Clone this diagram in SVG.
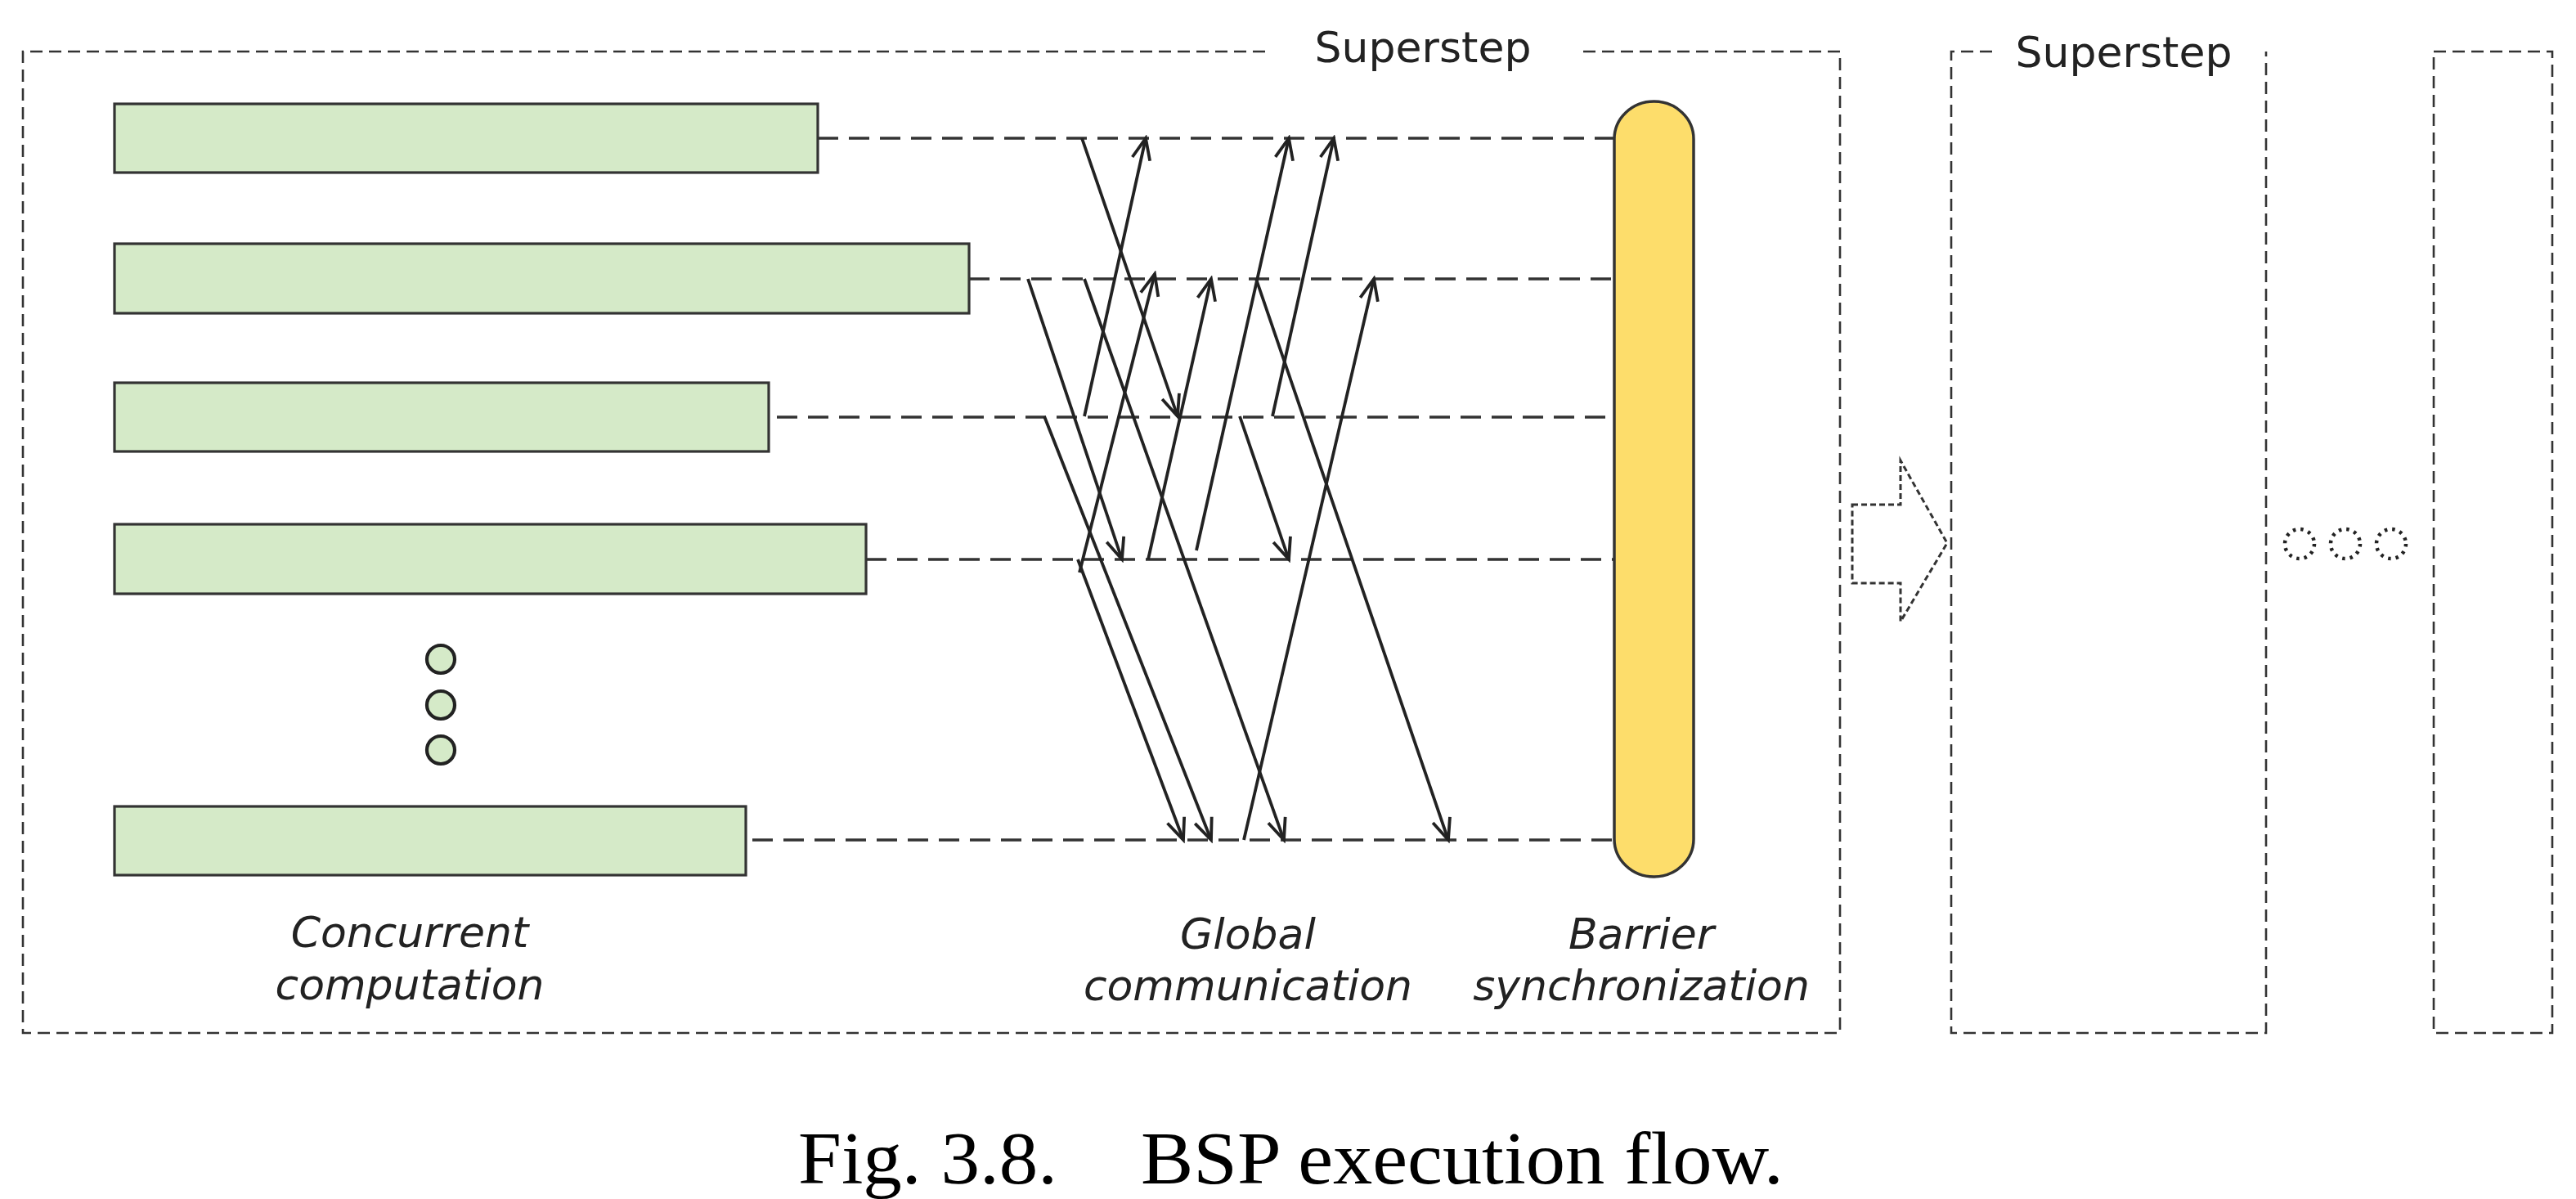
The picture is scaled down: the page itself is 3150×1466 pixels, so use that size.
<svg xmlns="http://www.w3.org/2000/svg" width="3150" height="1466" viewBox="0 0 3150 1466">
<defs>
<style>
.frame{fill:none;stroke:#333;stroke-width:2.6;stroke-dasharray:15 8}
.proc{fill:#D5EAC8;stroke:#333;stroke-width:3.2}
.row{fill:none;stroke:#333;stroke-width:3.5;stroke-dasharray:25 13}
.msg{fill:none;stroke:#222;stroke-width:3.8;marker-end:url(#ah)}
.lbl{font-family:"DejaVu Sans",Verdana,sans-serif;font-size:52px;fill:#222;text-anchor:middle}
.it{font-style:italic}
.cap{font-family:"Liberation Serif","Times New Roman",serif;font-size:90px;fill:#000}
</style>
<marker id="ah" viewBox="-32 -16 36 32" refX="0" refY="0" markerWidth="36" markerHeight="32" orient="auto" markerUnits="userSpaceOnUse">
<path d="M-26,-11 L0,0 L-26,11" fill="none" stroke="#222" stroke-width="3.8"/>
</marker>
</defs>
<rect width="3150" height="1466" fill="#fff"/>

<g id="superstep1">
<path class="frame" d="M1547,63 L28,63 L28,1263 L2250,1263 L2250,63 L1933,63"/>
<text class="lbl" x="1740" y="76">Superstep</text>
</g>
<g id="superstep2">
<path class="frame" d="M2436,63 L2386,63 L2386,1263 L2771,1263 L2771,63"/>
<text class="lbl" x="2597" y="82">Superstep</text>
</g>
<g id="superstep3">
<rect class="frame" x="2976" y="63" width="145" height="1200"/>
</g>
<g id="next-arrow">
<path d="M2265,617 L2324,617 L2324,563 L2381,664 L2324,760 L2324,713 L2265,713 Z" fill="none" stroke="#333" stroke-width="3" stroke-dasharray="7 4"/>
</g>
<g id="more-supersteps">
<circle cx="2812" cy="665" r="18" fill="none" stroke="#222" stroke-width="4.5" stroke-dasharray="3.5 6"/>
<circle cx="2868" cy="665" r="18" fill="none" stroke="#222" stroke-width="4.5" stroke-dasharray="3.5 6"/>
<circle cx="2924" cy="665" r="18" fill="none" stroke="#222" stroke-width="4.5" stroke-dasharray="3.5 6"/>
</g>

<g id="proc1"><rect class="proc" x="140" y="127" width="860" height="84"/></g>
<g id="proc2"><rect class="proc" x="140" y="298" width="1045" height="85"/></g>
<g id="proc3"><rect class="proc" x="140" y="468" width="800" height="84"/></g>
<g id="proc4"><rect class="proc" x="140" y="641" width="919" height="85"/></g>
<g id="proc-more">
<circle cx="539" cy="806" r="17" fill="#D5EAC8" stroke="#222" stroke-width="4.2"/>
<circle cx="539" cy="862" r="17" fill="#D5EAC8" stroke="#222" stroke-width="4.2"/>
<circle cx="539" cy="917" r="17" fill="#D5EAC8" stroke="#222" stroke-width="4.2"/>
</g>
<g id="proc5"><rect class="proc" x="140" y="986" width="772" height="84"/></g>

<g id="barrier">
<rect x="1974" y="124" width="97" height="948" rx="48.5" ry="46" fill="#FDDD6B" stroke="#333" stroke-width="3.5"/>
</g>

<g id="connectors">
<line class="row" x1="1000" y1="169" x2="1974" y2="169"/>
<line class="row" x1="1185" y1="341" x2="1974" y2="341"/>
<line class="row" x1="950" y1="510" x2="1974" y2="510"/>
<line class="row" x1="1059" y1="684" x2="1974" y2="684"/>
<line class="row" x1="920" y1="1027" x2="1974" y2="1027"/>

<line class="msg" x1="1323" y1="169" x2="1440" y2="509"/>
<line class="msg" x1="1326" y1="509" x2="1401" y2="169"/>
<line class="msg" x1="1463" y1="673" x2="1576" y2="169"/>
<line class="msg" x1="1556" y1="509" x2="1631" y2="169"/>
<line class="msg" x1="1257" y1="341" x2="1372" y2="684"/>
<line class="msg" x1="1326" y1="341" x2="1570" y2="1027"/>
<line class="msg" x1="1320" y1="700" x2="1412" y2="335"/>
<line class="msg" x1="1404" y1="684" x2="1481" y2="341"/>
<line class="msg" x1="1536" y1="341" x2="1771" y2="1027"/>
<line class="msg" x1="1521" y1="1027" x2="1680" y2="341"/>
<line class="msg" x1="1277" y1="509" x2="1481" y2="1027"/>
<line class="msg" x1="1516" y1="509" x2="1576" y2="684"/>
<line class="msg" x1="1318" y1="684" x2="1447" y2="1027"/>
</g>

<g id="labels">
<text class="lbl it" x="501" y="1158">Concurrent</text>
<text class="lbl it" x="501" y="1222">computation</text>
<text class="lbl it" x="1526" y="1160">Global</text>
<text class="lbl it" x="1526" y="1223">communication</text>
<text class="lbl it" x="2007" y="1160">Barrier</text>
<text class="lbl it" x="2007" y="1223">synchronization</text>
</g>

<g id="caption">
<text class="cap" x="976" y="1447" textLength="317" lengthAdjust="spacingAndGlyphs">Fig. 3.8.</text>
<text class="cap" x="1395" y="1447" textLength="786" lengthAdjust="spacingAndGlyphs">BSP execution flow.</text>
</g>
</svg>
